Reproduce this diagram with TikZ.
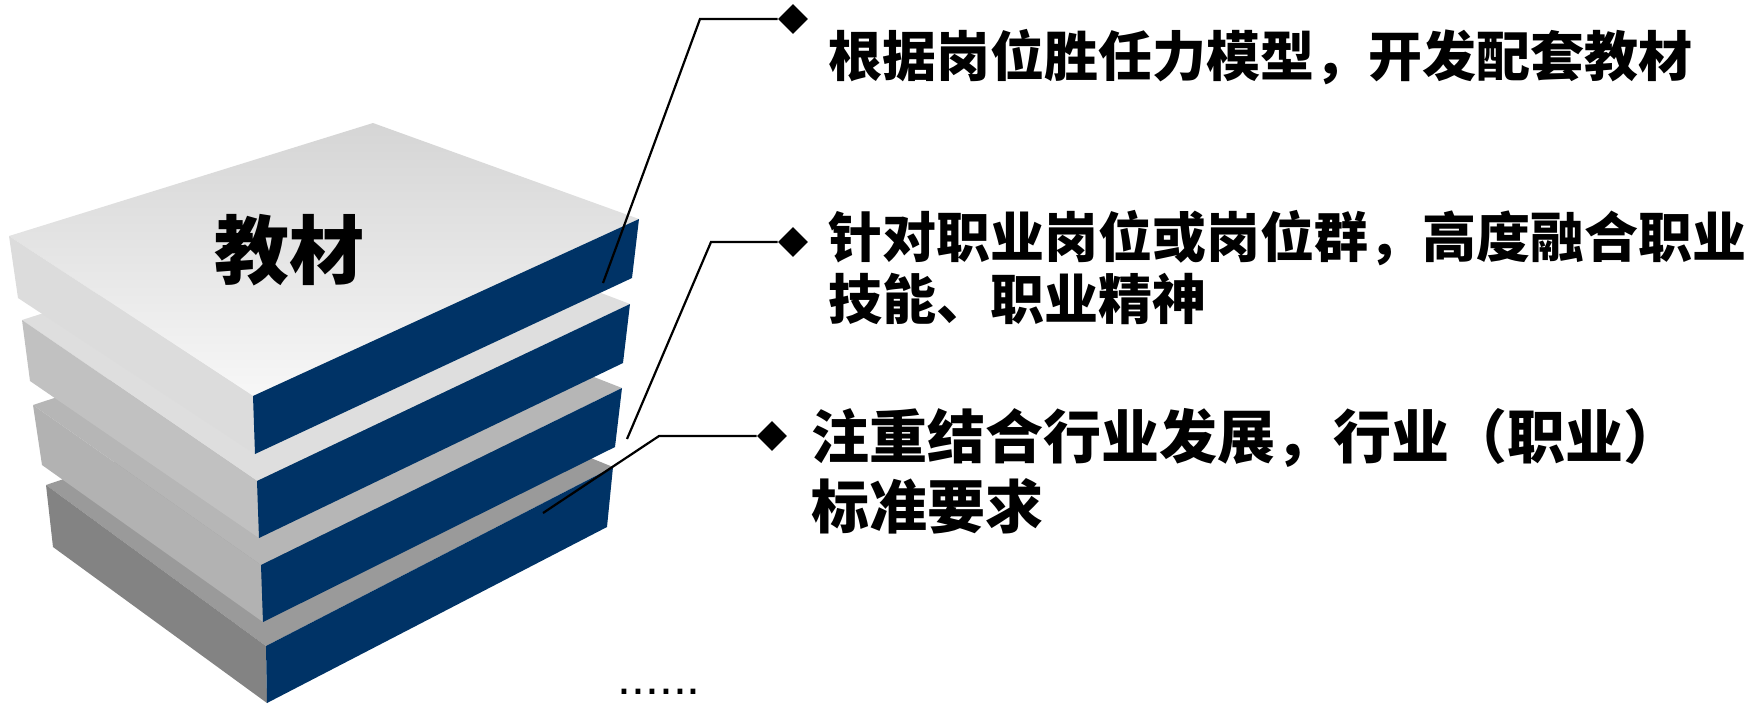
\documentclass[tikz,border=0pt]{standalone}
\usepackage{fontspec}
\newfontfamily\cjk{Noto Sans CJK SC}
\newfontfamily\dotfont{Liberation Sans}
\usetikzlibrary{shapes.geometric}

\definecolor{slabblue}{HTML}{003366}
\definecolor{topA}{HTML}{D5D5D5}
\definecolor{topB}{HTML}{F7F7F7}
\definecolor{sideA}{HTML}{DCDCDC}
\definecolor{topTwo}{HTML}{DEDEDE}
\definecolor{sideTwo}{HTML}{C1C1C1}
\definecolor{topThree}{HTML}{B6B6B6}
\definecolor{sideThree}{HTML}{B2B2B2}
\definecolor{topFour}{HTML}{9A9A9A}
\definecolor{sideFour}{HTML}{838383}

\tikzset{
  spine/.style={fill=slabblue},
  conn/.style={draw=black, line width=1.1pt, line join=miter},
  tipmark/.style={diamond, fill=black, inner sep=0pt, minimum width=15, minimum height=15},
  note/.style={font=\cjk\bfseries\fontsize{27pt}{31pt}\selectfont, inner sep=0pt, anchor=base west},
  bignote/.style={font=\cjk\bfseries\fontsize{29pt}{34pt}\selectfont, inner sep=0pt, anchor=base west},
}

\begin{document}
\begin{tikzpicture}[x=0.5pt, y=-0.5pt]
\useasboundingbox (0,0) rectangle (1744,703);

% --- bottom slab ---
\fill[topFour]  (46,485) -- (379,372) -- (613,467) -- (266,646) -- cycle;
\fill[sideFour] (46,485) -- (266,646) -- (267,703) -- (53,547) -- cycle;
\fill[spine]    (266,646) -- (613,467) -- (607,527) -- (267,703) -- cycle;

% --- third slab ---
\fill[topThree]  (33,405) -- (377,292) -- (622,388) -- (261,565) -- cycle;
\fill[sideThree] (33,405) -- (261,565) -- (263,622) -- (42,465) -- cycle;
\fill[spine]     (261,565) -- (622,388) -- (615,447) -- (263,622) -- cycle;

% --- second slab ---
\fill[topTwo]  (22,320) -- (375,207) -- (630,304) -- (257,481) -- cycle;
\fill[sideTwo] (22,320) -- (257,481) -- (259,538) -- (30,381) -- cycle;
\fill[spine]   (257,481) -- (630,304) -- (623,363) -- (259,538) -- cycle;

% --- top slab ---
\shade[top color=topA, bottom color=topB]
  (9,236) -- (373,123) -- (639,219) -- (253,396) -- cycle;
\fill[sideA] (9,236) -- (253,396) -- (255,454) -- (18,298) -- cycle;
\fill[spine] (253,396) -- (639,219) -- (632,278) -- (255,454) -- cycle;

\node[font=\cjk\bfseries\fontsize{37.5pt}{40pt}\selectfont, inner sep=0pt] (title) at (289,250) {教材};

% --- callouts ---
\coordinate (s1) at (603,283);
\coordinate (b1) at (700,19);
\node[tipmark] (d1) at (793,19) {};
\draw[conn] (s1) -- (b1) -- (d1.west);

\coordinate (s2) at (627,439);
\coordinate (b2) at (711,242);
\node[tipmark] (d2) at (793,242) {};
\draw[conn] (s2) -- (b2) -- (d2.west);

\coordinate (s3) at (543,513);
\coordinate (b3) at (659,436);
\node[tipmark] (d3) at (772,436) {};
\draw[conn] (s3) -- (b3) -- (d3.west);

\node[note] (t1)  at (828,76)  {根据岗位胜任力模型，开发配套教材};
\node[note] (t2a) at (828,257) {针对职业岗位或岗位群，高度融合职业};
\node[note] (t2b) at (828,319) {技能、职业精神};
\node[bignote] (t3a) at (811,458) {注重结合行业发展，行业（职业）};
\node[bignote] (t3b) at (811,528) {标准要求};

\node[font=\dotfont\fontsize{25pt}{28pt}\selectfont, inner sep=0pt, anchor=base west] (more) at (617,694) {......};
\end{tikzpicture}
\end{document}
